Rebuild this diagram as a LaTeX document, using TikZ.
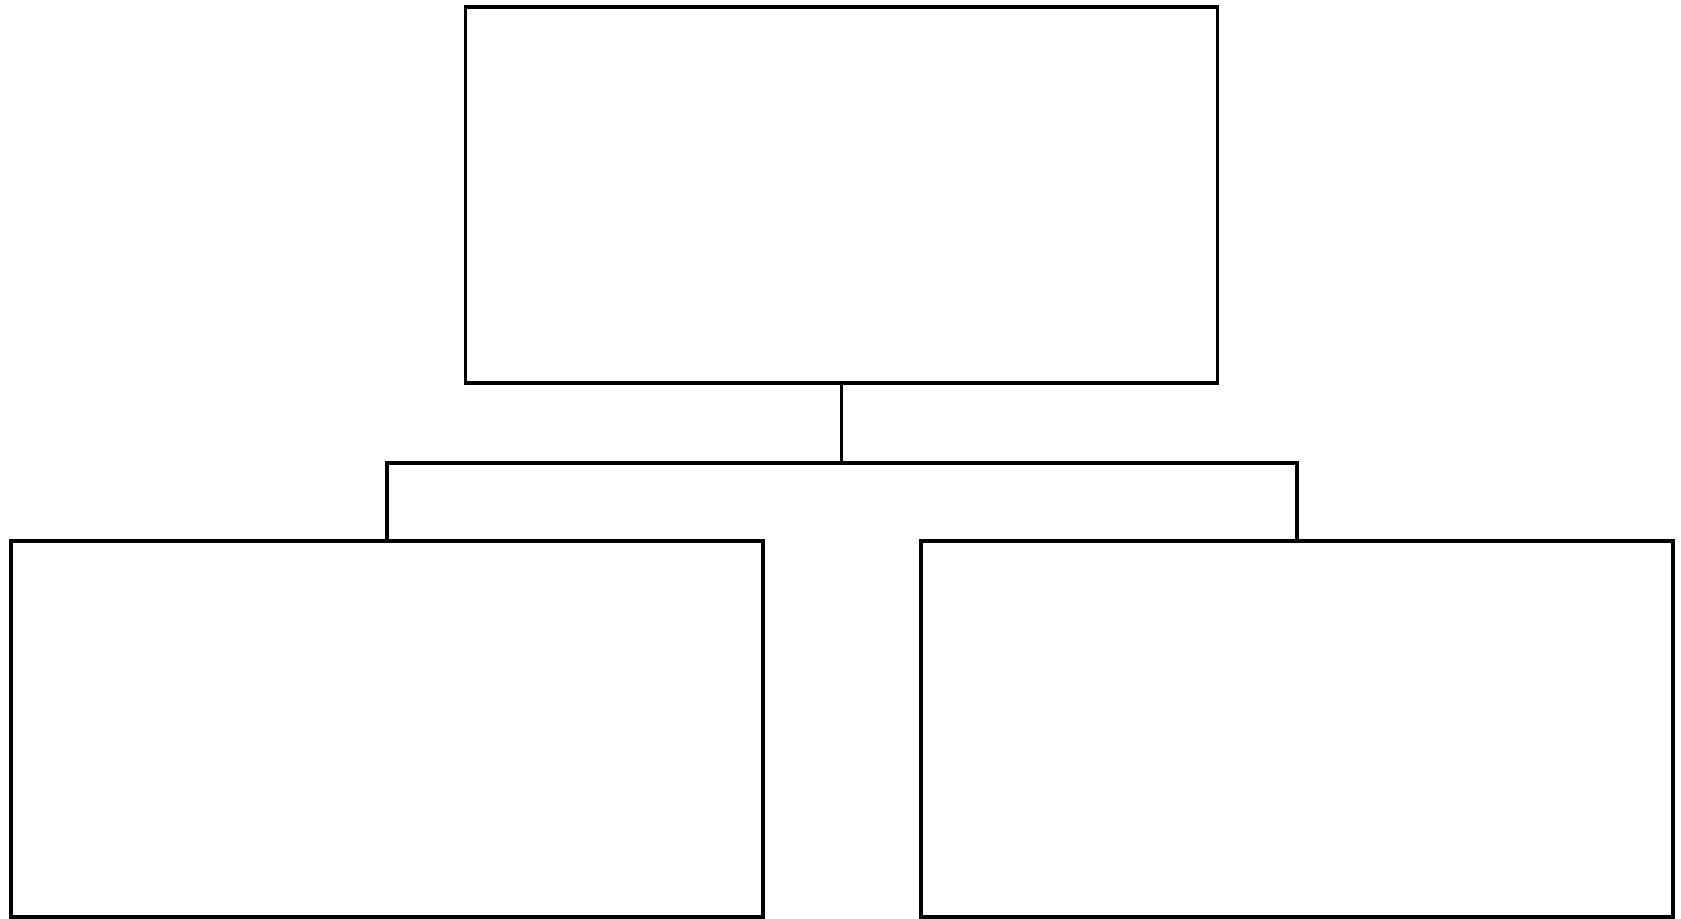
\documentclass[tikz,border=0pt]{standalone}
\usepackage{tikz}

\begin{document}
\begin{tikzpicture}[box/.style={draw, line width=1.1pt, rectangle, inner sep=0pt, minimum width=7.52cm, minimum height=3.76cm}]
    \useasboundingbox (0,0) rectangle (16.81,9.19);
    \node (root) [box] at (8.415,7.24) {};
    \node (left) [box] at (3.87,1.90) {};
    \node (right) [box] at (12.97,1.90) {};
    \coordinate (mid) at (8.415,4.56);

    \draw[line width=1.1pt] (root.south) -- (mid);
    \draw[line width=1.1pt] (left.north) -- (left.north |- mid) -- (right.north |- mid) -- (right.north);
\end{tikzpicture}
\end{document}
